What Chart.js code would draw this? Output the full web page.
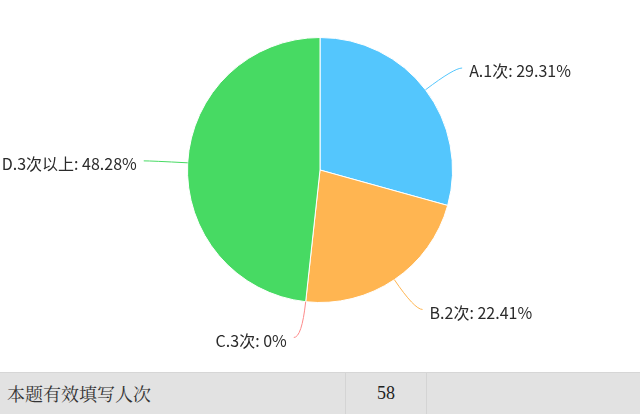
<!DOCTYPE html>
<html><head><meta charset="utf-8">
<script src="https://cdn.jsdelivr.net/npm/chart.js@4"></script>
<style>
html,body{margin:0;padding:0;background:#fff;width:640px;height:414px;overflow:hidden;}
#wrap{position:absolute;left:0;top:0;width:640px;height:372px;}
#tbl{position:absolute;left:0;top:372px;width:640px;height:42px;background:#e2e2e2;border-top:1px solid #d6d6d6;box-sizing:border-box;}
#tbl div{position:absolute;top:0;height:41px;line-height:40px;}
#c1{left:7px;font-family:"Noto Serif CJK SC","Noto Sans CJK SC",sans-serif;font-size:18px;color:#333;}
#c2{left:345px;width:80px;text-align:center;border-left:1px solid #d4d4d4;border-right:1px solid #d4d4d4;font-family:"Liberation Serif",serif;font-size:18px;color:#222;}
</style></head>
<body>
<div id="wrap"><canvas id="cv"></canvas></div>
<div id="tbl"><div id="c1">本题有效填写人次</div><div id="c2">58</div></div>
<script>
const categories = ["A.1次", "B.2次", "C.3次", "D.3次以上"];
const counts = [17, 13, 0, 28];
const percentLabels = ["29.31%", "22.41%", "0%", "48.28%"];
const colors = ["#54c6fd", "#ffb551", "#fd8a8a", "#47da63"];
const total = 58;

const labelPlugin = {
  id: 'pieLabels',
  afterDatasetsDraw(chart) {
    const ctx = chart.ctx;
    const meta = chart.getDatasetMeta(0);
    ctx.save();
    meta.data.forEach((arc, i) => {
      const p = arc.getProps(['x','y','startAngle','endAngle','outerRadius'], true);
      const mid = (p.startAngle + p.endAngle) / 2;
      const c = Math.cos(mid), s = Math.sin(mid);
      const r = p.outerRadius;
      const L1 = 36, L2 = 8;
      const x0 = p.x + c * r, y0 = p.y + s * r;
      const x1 = p.x + c * (r + L1), y1 = p.y + s * (r + L1);
      const dir = c >= 0 ? 1 : -1;
      const x2 = x1 + dir * L2, y2 = y1;
      ctx.strokeStyle = colors[i];
      ctx.lineWidth = 1;
      ctx.beginPath();
      ctx.moveTo(x0, y0);
      ctx.quadraticCurveTo(x1, y1, x2, y2);
      ctx.stroke();
      ctx.fillStyle = '#2b2b2b';
      ctx.font = '16px "Noto Sans CJK SC", sans-serif';
      ctx.textBaseline = 'middle';
      ctx.textAlign = dir > 0 ? 'left' : 'right';
      ctx.fillText(categories[i] + ': ' + percentLabels[i], x2 + dir * 7, y2 + 3);
    });
    ctx.restore();
  }
};

new Chart(document.getElementById('cv'), {
  type: 'pie',
  data: {
    labels: categories,
    datasets: [{
      data: counts,
      backgroundColor: colors,
      borderColor: '#ffffff',
      borderWidth: 1
    }]
  },
  options: {
    responsive: true,
    maintainAspectRatio: false,
    animation: false,
    layout: { padding: { top: 37, bottom: 69, left: 0, right: 0 } },
    plugins: { legend: { display: false }, tooltip: { enabled: false } }
  },
  plugins: [labelPlugin]
});
</script>
</body></html>
